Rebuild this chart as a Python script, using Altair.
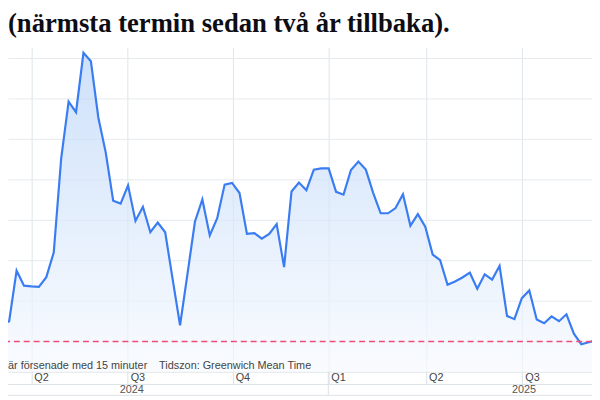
import altair as alt
import pandas as pd

# weekly index values (gridline units; 0 = red reference line)
idx = list(range(-1, 81))
values = [
    0.0, 0.40, 0.50, 1.75, 1.38, 1.36, 1.35, 1.59, 2.20, 4.52, 5.93,
    5.67, 7.14, 6.93, 5.54, 4.67, 3.48, 3.41, 3.86, 2.98, 3.33,
    2.70, 2.94, 2.70, 1.54, 0.40, 1.67, 2.96, 3.51, 2.62, 3.05,
    3.88, 3.92, 3.67, 2.66, 2.68, 2.54, 2.66, 2.90, 1.84, 3.71,
    3.93, 3.74, 4.25, 4.28, 4.28, 3.70, 3.63, 4.24, 4.45, 4.25,
    3.67, 3.17, 3.17, 3.30, 3.64, 2.86, 3.15, 2.84, 2.15, 2.01,
    1.40, 1.48, 1.58, 1.70, 1.30, 1.66, 1.53, 1.87, 0.63, 0.55,
    1.07, 1.26, 0.54, 0.45, 0.62, 0.50, 0.67, 0.19, -0.07, -0.02,
    0.03,
]

quarter_pos = [3.99, 16.95, 31.08, 43.95, 57.10, 70.06]
quarter_lbl = ["Q2", "Q3", "Q4", "Q1", "Q2", "Q3"]
year_pos = [17.5, 70.3]
year_lbl = ["2024", "2025"]
year_break = [43.95]
grid_vals = [0, 1, 2, 3, 4, 5, 6, 7]
ref_level = [0.0]
title_text = ["(närmsta termin sedan två år tillbaka)."]
foot_text = ["är försenade med 15 minuter\u00a0\u00a0\u00a0 Tidszon: Greenwich Mean Time"]

XMIN, XMAX = 0.844, 79.44
YMIN, YMAX = -0.75, 7.28
W, H = 592, 329

df = pd.DataFrame({"i": idx, "v": values})
qdf = pd.DataFrame({"q": quarter_pos, "lbl": quarter_lbl})
ydf = pd.DataFrame({"y": year_pos, "lbl": year_lbl})
bdf = pd.DataFrame({"b": year_break})
rdf = pd.DataFrame({"r": ref_level})

xs = alt.Scale(domain=[XMIN, XMAX], nice=False, zero=False)
ys = alt.Scale(domain=[YMIN, YMAX], nice=False, zero=False)

xaxis = alt.Axis(values=quarter_pos, labels=False, ticks=True, tickSize=13,
                 tickColor="#d9e1e7", domain=True, domainColor="#dde3e8",
                 grid=True, gridColor="#dde5ea", title=None)
yaxis = alt.Axis(values=grid_vals, labels=False, ticks=False, domain=False,
                 grid=True, gridColor="#e6eaed", title=None)

area = alt.Chart(df).mark_area(
    clip=True,
    line={"color": "#3a7cf2", "strokeWidth": 2.2},
    color=alt.Gradient(
        gradient="linear",
        stops=[alt.GradientStop(color="#b9d4f8", offset=0),
               alt.GradientStop(color="#f7fafe", offset=1)],
        x1=0, x2=0, y1=0, y2=1,
    ),
).encode(
    x=alt.X("i:Q", scale=xs, axis=xaxis),
    y=alt.Y("v:Q", scale=ys, axis=yaxis),
    y2=alt.datum(YMIN),
)

ref = alt.Chart(rdf).mark_rule(color="#ee4d78", strokeWidth=1.5,
                               strokeDash=[6, 4]).encode(y=alt.Y("r:Q", scale=ys))

qtext = alt.Chart(qdf).mark_text(align="left", baseline="middle", dx=3,
                                 fontSize=11, font="Liberation Sans",
                                 color="#444444").encode(
    x=alt.X("q:Q", scale=xs), y=alt.value(335.5), text="lbl:N")

ytext = alt.Chart(ydf).mark_text(align="center", baseline="middle",
                                 fontSize=11, font="Liberation Sans",
                                 color="#555555").encode(
    x=alt.X("y:Q", scale=xs), y=alt.value(348), text="lbl:N")

ybreak = alt.Chart(bdf).mark_rule(color="#d9e1e7", strokeWidth=1).encode(
    x=alt.X("b:Q", scale=xs), y=alt.value(329), y2=alt.value(353))

row_lines = alt.Chart(pd.DataFrame({"k": [342, 353]})).mark_rule(
    color="#dde3e8", strokeWidth=1).encode(
    x=alt.value(0), x2=alt.value(W), y=alt.Y("k:Q", scale=None))

foot = alt.Chart(pd.DataFrame({"t": foot_text})).mark_text(
    align="left", baseline="middle", fontSize=11, font="Liberation Sans",
    color="#444444").encode(x=alt.value(0), y=alt.value(323), text="t:N")

title = alt.Chart(pd.DataFrame({"t": title_text})).mark_text(
    align="left", baseline="top", fontSize=27, font="Liberation Serif",
    fontWeight="bold", color="#0d0d14").encode(
    x=alt.value(0), y=alt.value(-36), text="t:N")

chart = alt.layer(area, ref, ybreak, row_lines, qtext, ytext, foot, title).properties(
    width=W, height=H,
    padding={"left": 0, "top": 37, "right": 0, "bottom": 26},
    autosize=alt.AutoSizeParams(type="none"),
).configure_view(stroke=None)

chart.save("out.html", embed_options={"renderer": "svg", "actions": False})
